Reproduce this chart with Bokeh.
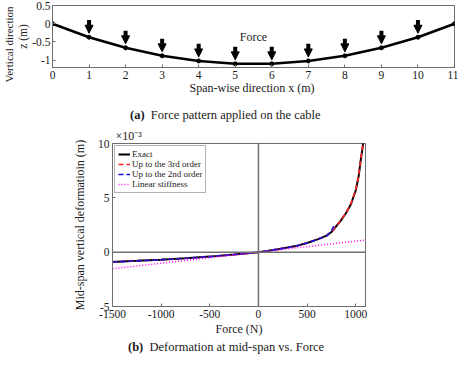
import numpy as np
from bokeh.plotting import figure
from bokeh.layouts import column
from bokeh.models import (ColumnDataSource, Range1d, FixedTicker, Label, Legend,
                          LegendItem, Arrow, NormalHead, Span, Title, Div)
from bokeh.embed import file_html
from bokeh.resources import INLINE

# ---------------- (a) force pattern on the cable ----------------
span_x = [0, 1, 2, 3, 4, 5, 6, 7, 8, 9, 10, 11]
cable_z = [0.0, -0.37, -0.66, -0.88, -1.02, -1.10, -1.10, -1.02, -0.88, -0.66, -0.37, 0.0]
top_xticks = [0, 1, 2, 3, 4, 5, 6, 7, 8, 9, 10, 11]
top_xlabels = ["0", "1", "2", "3", "4", "5", "6", "7", "8", "9", "10", "11"]
top_yticks = [-1, -0.5, 0, 0.5]
top_ylabels = ["-1", "-0.5", "0", "0.5"]

# ---------------- (b) mid-span deformation vs force (x 1e-3 m) ----------------
force_exact = [-1500, -1250, -1000, -750, -500, -250, 0, 100, 200, 300, 400, 500, 600,
               700, 750, 800, 850, 900, 950, 1000, 1030, 1050, 1065, 1080, 1095]
defl_exact = [-0.90, -0.80, -0.69, -0.56, -0.41, -0.22, 0.0, 0.13, 0.27, 0.42, 0.60, 0.85, 1.15,
              1.52, 1.85, 2.40, 2.95, 3.60, 4.40, 5.70, 7.00, 8.40, 9.30, 10.3, 11.5]
force_3rd = [-1500, -1250, -1000, -750, -500, -250, 0, 100, 200, 300, 400, 500, 600,
             700, 750, 800, 850, 900, 950, 1000, 1030, 1050, 1065, 1080, 1095]
defl_3rd = [-0.89, -0.80, -0.69, -0.56, -0.41, -0.22, 0.0, 0.13, 0.27, 0.42, 0.60, 0.85, 1.15,
            1.52, 1.86, 2.42, 2.97, 3.62, 4.45, 5.75, 7.05, 8.45, 9.35, 10.4, 11.6]
force_2nd = [-1500, -1250, -1000, -750, -500, -250, 0, 100, 200, 300, 400, 500, 600,
             700, 740, 765, 782]
defl_2nd = [-0.90, -0.80, -0.69, -0.56, -0.41, -0.22, 0.0, 0.13, 0.27, 0.42, 0.60, 0.85, 1.15,
            1.50, 1.85, 2.20, 2.65]
force_lin = [-1500, 1100]
defl_lin = [-1.53, 1.12]
bot_xticks = [-1500, -1000, -500, 0, 500, 1000]
bot_xlabels = ["-1500", "-1000", "-500", "0", "500", "1000"]
bot_yticks = [-5, 0, 5, 10]
bot_ylabels = ["-5", "0", "5", "10"]

SERIF = "Liberation Serif"
TXT = "#1a1a1a"
AX = "#6e6e6e"


def style_axis(ax, ticks, labels):
    ax.ticker = FixedTicker(ticks=ticks)
    ax.major_label_overrides = {t: l for t, l in zip(ticks, labels)}
    ax.minor_tick_line_color = None
    ax.major_tick_in = 3
    ax.major_tick_out = 0
    ax.axis_line_color = AX
    ax.major_tick_line_color = AX
    ax.major_label_text_font = SERIF
    ax.major_label_text_color = TXT
    ax.major_label_text_font_size = "11.5px"
    ax.major_label_standoff = 3


def caption(tag, text, indent):
    html = ("<div style='margin-left:%dpx;white-space:nowrap;font-family:\"Liberation Serif\";"
            "font-size:12.5px;line-height:17px;color:%s'><b>%s</b>&nbsp; %s</div>"
            % (indent, TXT, tag, text))
    return Div(text=html, width=458, height=17, margin=(0, 0, 0, 0))


# ======================= top figure =======================
p1 = figure(width=458, height=107, x_range=Range1d(0, 11), y_range=Range1d(-1.2, 0.5),
            output_backend="svg", toolbar_location=None,
            min_border_left=48, min_border_right=4, min_border_top=5, min_border_bottom=40)
p1.frame_align = False
p1.grid.visible = False
p1.outline_line_color = AX

style_axis(p1.xaxis[0], top_xticks, top_xlabels)
style_axis(p1.yaxis[0], top_yticks, top_ylabels)
p1.yaxis.major_label_standoff = 2
p1.xaxis.axis_label = "Span-wise direction  x (m)"
p1.yaxis.axis_label = "z (m)"
for ax in (p1.xaxis[0], p1.yaxis[0]):
    ax.axis_label_text_font = SERIF
    ax.axis_label_text_font_style = "normal"
    ax.axis_label_text_color = TXT
p1.xaxis.axis_label_text_font_size = "12px"
p1.yaxis.axis_label_text_font_size = "11.5px"
p1.xaxis.axis_label_standoff = -1
p1.yaxis.axis_label_standoff = 0

p1.add_layout(Title(text="Vertical direction", align="left", offset=-15, text_font=SERIF,
                    text_font_size="11px", text_font_style="normal", text_color=TXT,
                    standoff=0), "left")

p1.line(span_x, cable_z, line_color="black", line_width=2.5)
p1.scatter(span_x, cable_z, size=4, color="black")

node_x = span_x[1:11]
node_z = cable_z[1:11]
arr_src = ColumnDataSource(dict(x=node_x,
                                y0=[z + 0.47 for z in node_z],
                                y1=[z + 0.11 for z in node_z]))
p1.add_layout(Arrow(end=NormalHead(size=8, fill_color="black", line_color="black", line_width=1),
                    x_start="x", y_start="y0", x_end="x", y_end="y1", source=arr_src,
                    line_color="black", line_width=4))

p1.add_layout(Label(x=5.5, y=-0.36, text="Force", text_font=SERIF, text_font_size="12px",
                    text_color=TXT, text_align="center", text_baseline="middle"))

div_a = caption("(a)", "Force pattern applied on the cable", 130)

# ======================= bottom figure =======================
p2 = figure(width=458, height=215, x_range=Range1d(-1500, 1100), y_range=Range1d(-5, 10),
            output_backend="svg", toolbar_location=None,
            min_border_left=112, min_border_right=93, min_border_top=19, min_border_bottom=33)
p2.frame_align = False
p2.grid.visible = False
p2.outline_line_color = AX
p2.title = Title(text="×10⁻³", align="left", offset=3, standoff=1, text_font=SERIF,
                 text_font_size="12px", text_font_style="normal", text_color=TXT)

style_axis(p2.xaxis[0], bot_xticks, bot_xlabels)
style_axis(p2.yaxis[0], bot_yticks, bot_ylabels)
p2.xaxis.axis_label = "Force (N)"
p2.yaxis.axis_label = "Mid-span vertical deformatioin (m)"
for ax in (p2.xaxis[0], p2.yaxis[0]):
    ax.axis_label_text_font = SERIF
    ax.axis_label_text_font_style = "normal"
    ax.axis_label_text_font_size = "12px"
    ax.axis_label_text_color = TXT
p2.xaxis.axis_label_standoff = 1
p2.yaxis.axis_label_standoff = 8

p2.add_layout(Span(location=0, dimension="width", line_color="#707070", line_width=1.5))
p2.add_layout(Span(location=0, dimension="height", line_color="#707070", line_width=1.5))

r_exact = p2.line(force_exact, defl_exact, line_color="black", line_width=2)
r_3rd = p2.line(force_3rd, defl_3rd, line_color="#ff2020", line_width=1.6, line_dash="5 3")
r_2nd = p2.line(force_2nd, defl_2nd, line_color="#1010e0", line_width=1.6, line_dash="5 3")
r_lin = p2.line(force_lin, defl_lin, line_color="#ff00ff", line_width=1.5, line_dash="1 2")

legend = Legend(items=[LegendItem(label="Exact", renderers=[r_exact]),
                       LegendItem(label="Up to the 3rd order", renderers=[r_3rd]),
                       LegendItem(label="Up to the 2nd order", renderers=[r_2nd]),
                       LegendItem(label="Linear stiffness", renderers=[r_lin])],
                location="top_left")
legend.label_text_font = SERIF
legend.label_text_font_size = "9px"
legend.label_text_color = TXT
legend.glyph_width = 12
legend.glyph_height = 8
legend.label_height = 8
legend.label_standoff = 2
legend.spacing = 0
legend.padding = 3
legend.margin = 2
legend.border_line_color = "#666666"
legend.border_line_width = 1
legend.background_fill_alpha = 1
p2.add_layout(legend)

div_b = caption("(b)", "Deformation at mid-span vs. Force", 128)

layout = column(p1, div_a, p2, div_b, spacing=0)
open("out.html", "w").write(file_html(layout, INLINE))
